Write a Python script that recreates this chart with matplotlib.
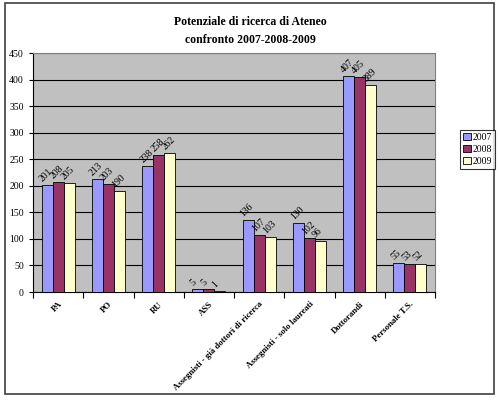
import matplotlib.pyplot as plt
import numpy as np
from matplotlib.patches import Rectangle

categorie = ["PA", "PO", "RU", "ASS", "Assegnisti - già dottori di ricerca",
             "Assegnisti - solo laureati", "Dottorandi", "Personale T.S."]
anni = ["2007", "2008", "2009"]
v2007 = [201, 213, 238, 5, 136, 130, 407, 55]
v2008 = [208, 203, 258, 5, 107, 102, 405, 53]
v2009 = [205, 190, 262, 1, 103, 96, 389, 52]
colori = ["#9999FF", "#993366", "#FFFFCC"]

plt.rcParams['font.family'] = ['Liberation Serif', 'DejaVu Serif']

fig = plt.figure(figsize=(5.0, 4.01), dpi=100)
fig.patch.set_facecolor("white")
fig.patches.append(Rectangle((5 / 500, 7 / 401), 489 / 500, 391 / 401, transform=fig.transFigure,
                             fill=False, edgecolor="#404040", linewidth=1.2))

ax = fig.add_axes([33 / 500, (401 - 292) / 401, 402 / 500, 239 / 401])
ax.set_facecolor("#C0C0C0")

x = np.arange(len(categorie))
w = 0.22
for k, (vals, c) in enumerate(zip([v2007, v2008, v2009], colori)):
    pos = x + (k - 1) * w
    ax.bar(pos, vals, width=w, color=c, edgecolor="black", linewidth=0.6, label=anni[k], zorder=3)
    for p, v in zip(pos, vals):
        ax.text(p - 0.06, v + 3, str(v), rotation=45, fontsize=7, ha="left", va="bottom",
                rotation_mode="anchor")

ax.set_xlim(-0.5, len(categorie) - 0.5)
ax.set_ylim(0, 450)
ax.set_yticks(np.arange(0, 451, 50))
ax.yaxis.grid(True, color="black", linewidth=0.8, zorder=1)
ax.set_axisbelow(True)
ax.tick_params(axis="y", labelsize=7, length=3, direction="out")

ax.set_xticks(np.arange(-0.5, len(categorie), 1.0))
ax.set_xticklabels([])
ax.set_xticks(x, minor=True)
ax.set_xticklabels(categorie, minor=True, rotation=45, ha="right", rotation_mode="anchor",
                   fontsize=6.3, fontweight="bold")
ax.tick_params(axis="x", which="major", length=4, direction="out")
ax.tick_params(axis="x", which="minor", length=0, pad=6)

for s in ["top", "right"]:
    ax.spines[s].set_color("#808080")
ax.spines["left"].set_color("black")
ax.spines["bottom"].set_color("black")

fig.text(0.5, 1 - 22 / 401, "Potenziale di ricerca di Ateneo", ha="center", va="center",
         fontsize=8.5, fontweight="bold")
fig.text(0.5, 1 - 40 / 401, "confronto 2007-2008-2009", ha="center", va="center",
         fontsize=8.5, fontweight="bold")

leg = fig.legend(loc="upper left", bbox_to_anchor=(460 / 500, 1 - 130 / 401), fontsize=7,
                 frameon=True, fancybox=False, edgecolor="black", handlelength=0.8,
                 handleheight=0.8, handletextpad=0.2, borderpad=0.3, labelspacing=0.3,
                 borderaxespad=0)
leg.get_frame().set_linewidth(0.8)

fig.savefig("out.png", dpi=100)
